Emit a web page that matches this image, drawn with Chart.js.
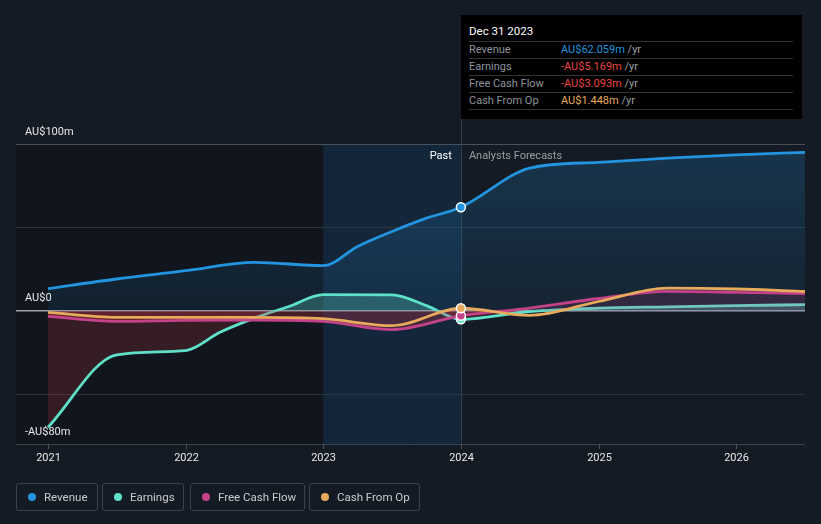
<!DOCTYPE html>
<html>
<head>
<meta charset="utf-8">
<script src="https://cdn.jsdelivr.net/npm/chart.js@4"></script>
<style>
  html,body{margin:0;padding:0;background:#151b24;}
  #wrap{position:relative;width:821px;height:524px;overflow:hidden;font-family:Roboto,"Noto Sans",sans-serif;}
  #c{position:absolute;left:0;top:0;}
  #tip{position:absolute;left:461px;top:15px;width:341px;height:104px;background:#000;color:#ddd;font-size:11px;}
  #tip .hd{position:absolute;left:8px;top:9px;color:#fff;font-size:11.5px;}
  #tip .row{position:absolute;left:8px;width:324px;height:17px;border-top:1px solid #333;line-height:16px;}
  #tip .row .l{position:absolute;left:0;color:#8d939b;}
  #tip .row .v{position:absolute;left:92px;}
  #tip .row .u{color:#9aa0a6;}
  .lg{position:absolute;top:0;height:26px;border:1px solid #3a414b;border-radius:3px;color:#c8ccd1;font-size:11.5px;line-height:26px;box-sizing:content-box;}
  .lg .dot{position:absolute;left:11px;top:9px;width:8px;height:8px;border-radius:50%;}
  .lg .t{position:absolute;left:27px;white-space:nowrap;}
</style>
</head>
<body>
<div id="wrap">
<canvas id="c" width="821" height="524"></canvas>
<div id="tip"></div>
<div id="legendBox"></div>
</div>
<script>
// ---- data ----
const seriesNames = ["Revenue", "Earnings", "Free Cash Flow", "Cash From Op"];
const seriesColors = ["#2394df", "#5fe0c8", "#c4428a", "#e8aa5c"];

const revenueX = [2021, 2021.5, 2022, 2022.5, 2023, 2023.25, 2023.5, 2023.75, 2024, 2024.5, 2025, 2025.5, 2026, 2026.5];
const revenueY = [13.2, 19, 24, 29, 27, 38.5, 47.5, 55.5, 62.059, 85.5, 89, 91.5, 93.5, 95];

const earningsX = [2021, 2021.5, 2022, 2022.25, 2022.5, 2022.75, 2023, 2023.5, 2023.75, 2024, 2024.5, 2025, 2025.5, 2026, 2026.5];
const earningsY = [-70, -26.5, -24, -13, -4.5, 2.5, 9.6, 9.5, 3, -5.169, -0.5, 1.5, 2.3, 3, 3.6];

const fcfX = [2021, 2021.5, 2022, 2022.5, 2023, 2023.5, 2024, 2024.5, 2025, 2025.5, 2026, 2026.5];
const fcfY = [-3.4, -6.4, -5.8, -5.6, -6.4, -11.4, -3.093, 1.5, 7.3, 11.6, 11, 10.2];

const cfoX = [2021, 2021.5, 2022, 2022.5, 2023, 2023.5, 2024, 2024.5, 2025, 2025.5, 2026, 2026.5];
const cfoY = [-1, -4, -4, -4, -4.8, -9, 1.448, -2.8, 5.5, 13.5, 13, 11.5];

const yTickValues = [100, 0, -80];
const yTickLabels = ["AU$100m", "AU$0", "-AU$80m"];
const yGridValues = [100, 50, -50];
const xTickValues = [2021, 2022, 2023, 2024, 2025, 2026];
const xTickLabels = ["2021", "2022", "2023", "2024", "2025", "2026"];

const pastStart = 2023, nowX = 2024;
const tipTitle = "Dec 31 2023";
const tipValues = ["AU$62.059m", "-AU$5.169m", "-AU$3.093m", "AU$1.448m"];
const tipValueColors = ["#2394df", "#e84545", "#e84545", "#e8aa5c"];

// ---- html parts ----
const tip = document.getElementById('tip');
let h = '<div class="hd">' + tipTitle + '</div>';
seriesNames.forEach((n, i) => {
  h += '<div class="row" style="top:' + (26 + i * 17) + 'px"><span class="l">' + n + '</span><span class="v"><span style="color:' + tipValueColors[i] + '">' + tipValues[i] + '</span> <span class="u">/yr</span></span></div>';
});
h += '<div class="row" style="top:94px;height:0"></div>';
tip.innerHTML = h;

const lgPos = [[16, 82], [102, 82], [190, 115], [309, 111]];
const lb = document.getElementById('legendBox');
let lh = '';
seriesNames.forEach((n, i) => {
  lh += '<div class="lg" style="left:' + lgPos[i][0] + 'px;top:483px;width:' + (lgPos[i][1] - 2) + 'px"><span class="dot" style="background:' + seriesColors[i] + '"></span><span class="t">' + n + '</span></div>';
});
lb.innerHTML = lh;

// ---- chart ----
const toXY = (xs, ys) => xs.map((x, i) => ({ x: x, y: ys[i] }));
const ptR = ctx => (ctx.raw && ctx.raw.x === nowX ? 4.5 : 0);

const bgPlugin = {
  id: 'bg',
  beforeDatasetsDraw(chart) {
    const { ctx, chartArea: a, scales: { x, y } } = chart;
    ctx.save();
    const xp = x.getPixelForValue(pastStart), xn = x.getPixelForValue(nowX);
    ctx.fillStyle = 'rgba(0,0,0,0.16)';
    ctx.fillRect(a.left, a.top, xp - a.left, a.bottom - a.top);
    ctx.fillStyle = 'rgba(20,60,100,0.35)';
    ctx.fillRect(xp, a.top, xn - xp, a.bottom - a.top);
    ctx.strokeStyle = '#2d343e';
    ctx.lineWidth = 1;
    yGridValues.forEach(v => {
      const py = Math.round(y.getPixelForValue(v)) + 0.5;
      ctx.beginPath(); ctx.moveTo(a.left, py); ctx.lineTo(a.right, py); ctx.stroke();
    });
    ctx.strokeStyle = '#4a5059';
    const pt = Math.round(y.getPixelForValue(100)) + 0.5;
    ctx.beginPath(); ctx.moveTo(a.left, pt); ctx.lineTo(a.right, pt); ctx.stroke();
    ctx.strokeStyle = '#3c434d';
    const pb = Math.round(a.bottom) + 0.5;
    ctx.beginPath(); ctx.moveTo(a.left, pb); ctx.lineTo(a.right, pb); ctx.stroke();
    ctx.strokeStyle = '#2c3e50';
    ctx.beginPath(); ctx.moveTo(Math.round(xn) + 0.5, 15); ctx.lineTo(Math.round(xn) + 0.5, a.bottom); ctx.stroke();
    ctx.restore();
  },
  afterDatasetsDraw(chart) {
    const { ctx, chartArea: a, scales: { x, y } } = chart;
    ctx.save();
    ctx.font = '11px Roboto, sans-serif';
    ctx.fillStyle = '#e6e6e6';
    ctx.textBaseline = 'middle';
    ctx.textAlign = 'left';
    yTickValues.forEach((v, i) => {
      ctx.fillText(yTickLabels[i], 25, y.getPixelForValue(v) - 12);
    });
    ctx.textAlign = 'center';
    ctx.strokeStyle = '#4a5059';
    ctx.lineWidth = 1;
    xTickValues.forEach((v, i) => {
      const px = Math.round(x.getPixelForValue(v)) + 0.5;
      ctx.beginPath(); ctx.moveTo(px, a.bottom); ctx.lineTo(px, a.bottom + 5); ctx.stroke();
      ctx.fillStyle = '#e6e6e6';
      ctx.fillText(xTickLabels[i], px, a.bottom + 14);
    });
    const xn = x.getPixelForValue(nowX);
    ctx.textAlign = 'right';
    ctx.fillStyle = '#ffffff';
    ctx.fillText('Past', xn - 9, a.top + 12);
    ctx.textAlign = 'left';
    ctx.fillStyle = '#9a9fa6';
    ctx.fillText('Analysts Forecasts', xn + 8, a.top + 12);
    ctx.restore();
  }
};

// zero line drawn beneath the series lines but above fills
const zeroPlugin = {
  id: 'zero',
  beforeDatasetsDraw(chart) {
    const { ctx, chartArea: a, scales: { y } } = chart;
    ctx.save();
    ctx.strokeStyle = '#a0a4a8';
    ctx.lineWidth = 1.5;
    const pz = y.getPixelForValue(0);
    ctx.beginPath(); ctx.moveTo(a.left, pz); ctx.lineTo(a.right, pz); ctx.stroke();
    ctx.restore();
  }
};

const ctx = document.getElementById('c').getContext('2d');
const revGrad = ctx.createLinearGradient(0, 144, 0, 311);
revGrad.addColorStop(0, 'rgba(35,148,223,0.22)');
revGrad.addColorStop(1, 'rgba(35,148,223,0.08)');

const common = { pointBorderColor: '#ffffff', pointBorderWidth: 1.5, pointRadius: ptR, pointHoverRadius: 0 };

new Chart(ctx, {
  type: 'line',
  data: {
    datasets: [
      Object.assign({ label: seriesNames[3], data: toXY(cfoX, cfoY), borderColor: seriesColors[3], backgroundColor: seriesColors[3],
        pointBackgroundColor: seriesColors[3], fill: false, order: 0 }, common),
      Object.assign({ label: seriesNames[2], data: toXY(fcfX, fcfY), borderColor: seriesColors[2], backgroundColor: seriesColors[2],
        pointBackgroundColor: seriesColors[2], fill: { target: 'origin', above: 'rgba(196,66,138,0.16)', below: 'rgba(210,50,70,0.28)' }, order: 1 }, common),
      Object.assign({ label: seriesNames[1], data: toXY(earningsX, earningsY), borderColor: seriesColors[1], backgroundColor: seriesColors[1],
        pointBackgroundColor: seriesColors[1], fill: { target: 'origin', above: 'rgba(95,224,200,0.28)', below: 'rgba(200,50,60,0.2)' }, order: 2 }, common),
      Object.assign({ label: seriesNames[0], data: toXY(revenueX, revenueY), borderColor: seriesColors[0], backgroundColor: seriesColors[0],
        pointBackgroundColor: seriesColors[0], fill: { target: 'origin', above: revGrad }, order: 3 }, common)
    ]
  },
  options: {
    responsive: false,
    animation: false,
    events: [],
    layout: { padding: { left: 16, right: 16, top: 144, bottom: 80 } },
    elements: {
      line: { borderWidth: 2.8, cubicInterpolationMode: 'monotone' }
    },
    scales: {
      x: { type: 'linear', min: 2020.768, max: 2026.5, display: false },
      y: { type: 'linear', min: -80, max: 100, display: false }
    },
    plugins: { legend: { display: false }, tooltip: { enabled: false } },
    clip: false
  },
  plugins: [bgPlugin, zeroPlugin]
});
</script>
</body>
</html>
